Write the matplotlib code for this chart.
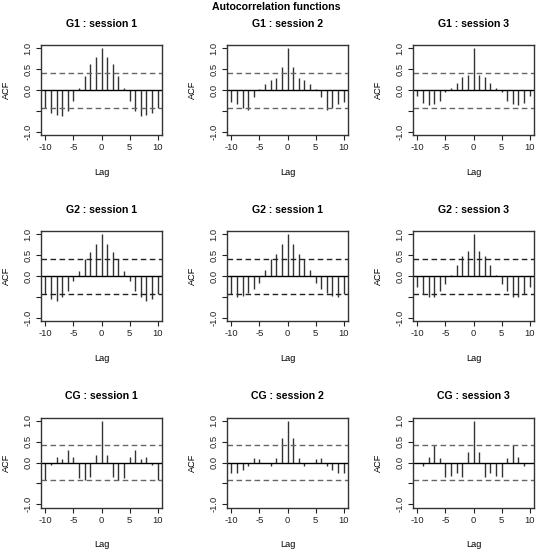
import matplotlib
matplotlib.use("Agg")
import matplotlib.pyplot as plt
import numpy as np

plt.rcParams['font.family'] = ['Liberation Sans', 'DejaVu Sans']

lags = list(range(-10, 11))

titles = ["G1 : session 1", "G1 : session 2", "G1 : session 3",
          "G2 : session 1", "G2 : session 1", "G2 : session 3",
          "CG : session 1", "CG : session 2", "CG : session 3"]

g1_s1 = [-0.42, -0.54, -0.60, -0.62, -0.50, -0.26, 0.06, 0.34, 0.62, 0.80, 1.0,
         0.80, 0.62, 0.34, 0.06, -0.26, -0.50, -0.62, -0.60, -0.54, -0.42]
g1_s2 = [-0.28, -0.34, -0.44, -0.48, -0.16, 0.02, 0.14, 0.24, 0.30, 0.56, 1.0,
         0.56, 0.30, 0.24, 0.14, 0.02, -0.16, -0.48, -0.44, -0.34, -0.28]
g1_s3 = [-0.14, -0.32, -0.36, -0.34, -0.26, -0.04, 0.06, 0.17, 0.32, 0.36, 1.0,
         0.36, 0.32, 0.17, 0.06, -0.04, -0.26, -0.34, -0.36, -0.32, -0.14]
g2_s1 = [-0.43, -0.56, -0.59, -0.51, -0.37, -0.13, 0.12, 0.40, 0.58, 0.78, 1.0,
         0.78, 0.58, 0.40, 0.12, -0.13, -0.37, -0.51, -0.59, -0.56, -0.43]
g2_s1b = [-0.42, -0.50, -0.47, -0.40, -0.30, -0.17, 0.15, 0.40, 0.54, 0.78, 1.0,
          0.78, 0.54, 0.40, 0.15, -0.17, -0.30, -0.40, -0.47, -0.50, -0.42]
g2_s3 = [-0.27, -0.42, -0.50, -0.50, -0.35, -0.18, 0.02, 0.27, 0.48, 0.60, 1.0,
         0.60, 0.48, 0.27, 0.02, -0.18, -0.35, -0.50, -0.50, -0.42, -0.27]
cg_s1 = [-0.42, -0.06, 0.14, 0.09, 0.31, 0.14, -0.38, -0.42, -0.34, 0.19, 1.0,
         0.19, -0.34, -0.42, -0.37, 0.14, 0.31, 0.09, 0.14, -0.07, -0.42]
cg_s2 = [-0.24, -0.26, -0.17, -0.09, 0.10, 0.09, -0.02, -0.09, 0.10, 0.58, 1.0,
         0.58, 0.10, -0.09, -0.02, 0.09, 0.10, -0.09, -0.17, -0.26, -0.24]
cg_s3 = [-0.02, -0.08, 0.13, 0.42, 0.10, -0.35, -0.32, -0.25, -0.35, 0.26, 1.0,
         0.26, -0.35, -0.25, -0.32, -0.35, 0.10, 0.42, 0.13, -0.08, -0.02]

series = [g1_s1, g1_s2, g1_s3, g2_s1, g2_s1b, g2_s3, cg_s1, cg_s2, cg_s3]
conf = 0.42

W, H = 537, 554
fig = plt.figure(figsize=(W / 100, H / 100), dpi=100)

col_left = [41, 227, 413]
row_top = [45, 231, 417.5]
aw, ah = 121, 90

fig.text(276 / W, 1 - 7 / H, "Autocorrelation functions", ha='center', va='center',
         fontsize=7.6, fontweight='bold')

for i, (vals, title) in enumerate(zip(series, titles)):
    r, c = divmod(i, 3)
    left = col_left[c] / W
    bottom = 1 - (row_top[r] + ah) / H
    ax = fig.add_axes([left, bottom, aw / W, ah / H])
    dash_col = '#222222' if r == 1 else '#666666'
    ax.vlines(lags, 0, vals, color='#333333', lw=1.0)
    ax.axhline(0, color='black', lw=1.0)
    ax.axhline(conf, color=dash_col, lw=1.0, ls=(0, (4, 2.5)))
    ax.axhline(-conf, color=dash_col, lw=1.0, ls=(0, (4, 2.5)))
    ax.set_xlim(-10.8, 10.8)
    ax.set_ylim(-1.08, 1.08)
    ax.set_xticks([-10, -5, 0, 5, 10])
    ax.set_xticklabels(['-10', '-5', '0', '5', '10'])
    ax.set_yticks([-1.0, -0.5, 0.0, 0.5, 1.0])
    ax.set_yticklabels(['-1.0', '', '0.0', '0.5', '1.0'], rotation=90, va='center')
    ax.tick_params(direction='out', length=3.5, width=0.8, labelsize=6.8, pad=2.5,
                   colors='#222222')
    for sp in ax.spines.values():
        sp.set_color('#333333')
        sp.set_linewidth(1.0)
    ax.set_xlabel("Lag", fontsize=6.6, labelpad=11)
    ax.set_ylabel("ACF", fontsize=6.6, labelpad=9)
    ax.set_title(title, fontsize=7.6, fontweight='bold', pad=13)

fig.savefig("out.png", dpi=100)
